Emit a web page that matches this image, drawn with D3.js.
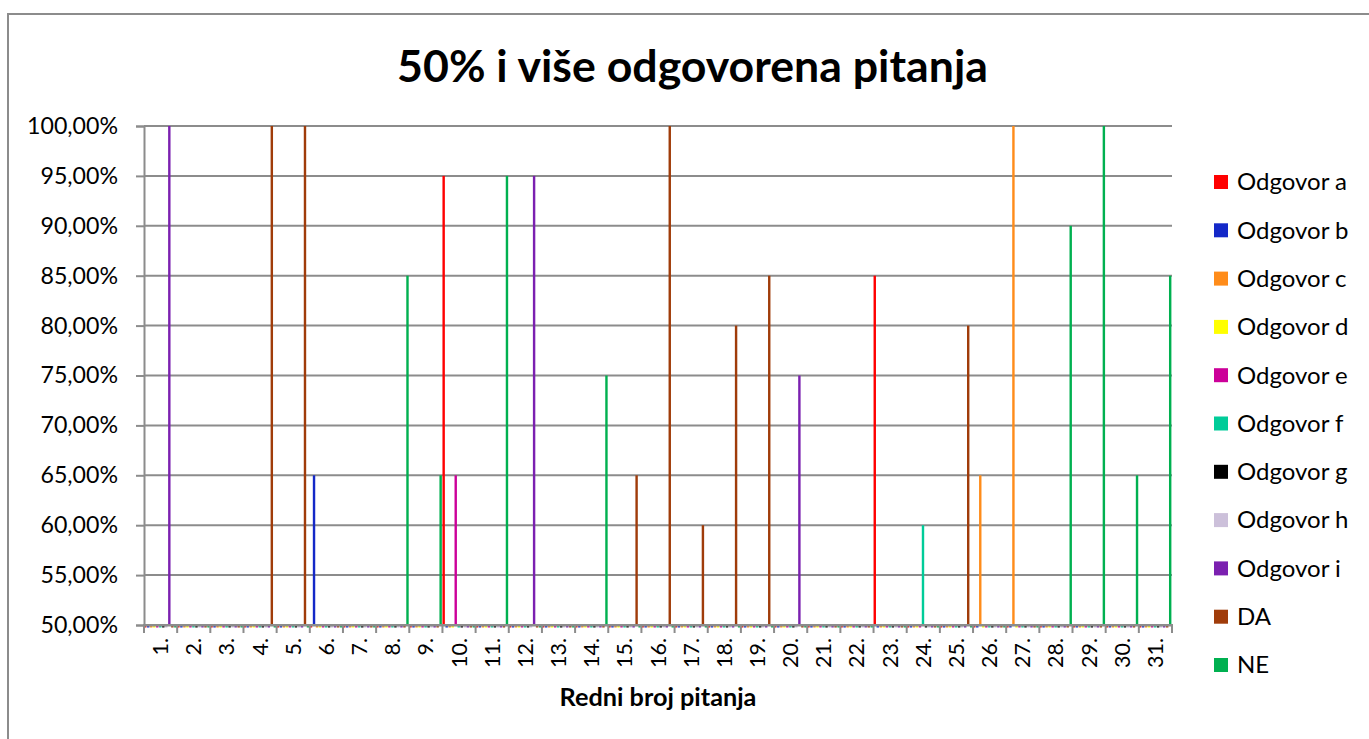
<!DOCTYPE html>
<html><head><meta charset="utf-8">
<script src="https://cdn.jsdelivr.net/npm/d3@7"></script>
<style>body{margin:0;background:#fff;} svg{display:block;}</style>
</head><body>
<svg id="c" width="1369" height="739"></svg>
<script>
// ---- data ----
const categories = ["1.","2.","3.","4.","5.","6.","7.","8.","9.","10.","11.","12.","13.","14.","15.","16.","17.","18.","19.","20.","21.","22.","23.","24.","25.","26.","27.","28.","29.","30.","31."];
const seriesNames = ["Odgovor a","Odgovor b","Odgovor c","Odgovor d","Odgovor e","Odgovor f","Odgovor g","Odgovor h","Odgovor i","DA","NE"];
const seriesColors = ["#ff0000","#1428c8","#ff8c1a","#ffff00","#cc0099","#00cc99","#000000","#ccc0da","#7b20b0","#a03c0a","#00b050"];
// values in % (below 50% not readable -> shown at baseline only)
const odgA = [0,0,0,0,0,0,0,0,0,95,0,0,0,0,0,0,0,0,0,0,0,0,85,0,0,0,0,0,0,0,0];
const odgB = [0,0,0,0,0,65,0,0,0,0,0,0,0,0,0,0,0,0,0,0,0,0,0,0,0,0,0,0,0,0,0];
const odgC = [0,0,0,0,0,0,0,0,0,0,0,0,0,0,0,0,0,0,0,0,0,0,0,0,0,65,100,0,0,0,0];
const odgD = [0,0,0,0,0,0,0,0,0,0,0,0,0,0,0,0,0,0,0,0,0,0,0,0,0,0,0,0,0,0,0];
const odgE = [0,0,0,0,0,0,0,0,0,65,0,0,0,0,0,0,0,0,0,0,0,0,0,0,0,0,0,0,0,0,0];
const odgF = [0,0,0,0,0,0,0,0,0,0,0,0,0,0,0,0,0,0,0,0,0,0,0,60,0,0,0,0,0,0,0];
const odgG = [0,0,0,0,0,0,0,0,0,0,0,0,0,0,0,0,0,0,0,0,0,0,0,0,0,0,0,0,0,0,0];
const odgH = [0,0,0,0,0,0,0,0,0,0,0,0,0,0,0,0,0,0,0,0,0,0,0,0,0,0,0,0,0,0,0];
const odgI = [100,0,0,0,0,0,0,0,0,0,0,95,0,0,0,0,0,0,0,75,0,0,0,0,0,0,0,0,0,0,0];
const da   = [0,0,0,100,100,0,0,0,0,0,0,0,0,0,65,100,60,80,85,0,0,0,0,0,80,0,0,0,0,0,0];
const ne   = [0,0,0,0,0,0,0,85,65,0,95,0,0,75,0,0,0,0,0,0,0,0,0,0,0,0,0,90,100,65,85];
const seriesValues = [odgA,odgB,odgC,odgD,odgE,odgF,odgG,odgH,odgI,da,ne];
const yTicks = [50,55,60,65,70,75,80,85,90,95,100];
const title = "50% i više odgovorena pitanja";
const xTitle = "Redni broj pitanja";

// ---- layout ----
const svg = d3.select("#c");
const L = 144, R = 1172, T = 126, B = 625;
const grid = "#8c8c8c";
const font = "Lato, 'Open Sans', sans-serif";

// fit a text's font-size so that a sample string reaches a target width
function fitSize(sample, target, weight){
  const t = svg.append("text").attr("font-family",font).attr("font-weight",weight||"normal")
    .attr("font-size",100).text(sample);
  const w = t.node().getComputedTextLength();
  t.remove();
  return 100*target/w;
}
const fsTitle = fitSize(title, 591, "bold");
const fsXTitle = fitSize(xTitle, 197, "bold");
const fsY = fitSize("100,00%", 91);
const fsX = fitSize("10.", 30);
const fsLeg = fitSize("Odgovor a", 110);

svg.append("rect").attr("x",8).attr("y",14).attr("width",1380).attr("height",740)
  .attr("fill","#fff").attr("stroke","#8c8c8c").attr("stroke-width",2);

const x = d3.scaleBand().domain(categories).range([L,R]).paddingInner(0).paddingOuter(0);
const xs = d3.scaleBand().domain(d3.range(seriesNames.length)).range([0,x.bandwidth()]).padding(0);
const y = d3.scaleLinear().domain([50,100]).range([B,T]);

// gridlines
svg.append("g").selectAll("line").data(yTicks.slice(1)).join("line")
  .attr("x1",L).attr("x2",R).attr("y1",d=>y(d)).attr("y2",d=>y(d))
  .attr("stroke",grid).attr("stroke-width",2);

// bars
const fmt = v => v.toFixed(2).replace(".",",") + "%";
seriesValues.forEach((vals,si)=>{
  const g = svg.append("g");
  g.selectAll("rect").data(vals).join("rect")
    .attr("x",(d,i)=>x(categories[i]) + xs(si))
    .attr("width",xs.bandwidth()-0.6)
    .attr("y",d=> d>50 ? y(d) : B+0.5)
    .attr("height",d=> d>50 ? B-y(d) : 2)
    .attr("fill",seriesColors[si]);
});

// y axis
const yAxis = d3.axisLeft(y).tickValues(yTicks).tickSize(8).tickPadding(18).tickFormat(fmt);
const ya = svg.append("g").attr("transform",`translate(${L},0)`).call(yAxis);
ya.select(".domain").attr("stroke",grid).attr("stroke-width",2);
ya.selectAll(".tick line").attr("stroke",grid).attr("stroke-width",2);
ya.selectAll(".tick text").attr("font-family",font).attr("font-size",fsY).attr("fill","#000");

// x axis
const xa = svg.append("g").attr("transform",`translate(0,${B})`)
  .call(d3.axisBottom(x).tickSize(0).tickFormat(d=>d));
xa.select(".domain").attr("stroke",grid).attr("stroke-width",2);
xa.selectAll(".tick text").attr("font-family",font).attr("font-size",fsX).attr("fill","#000")
  .attr("transform","rotate(-90)").attr("text-anchor","end").attr("dy","0.35em").attr("x",-13).attr("y",0);
// boundary tick marks
svg.append("g").selectAll("line").data(d3.range(categories.length+1)).join("line")
  .attr("x1",i=>L + i*x.bandwidth()).attr("x2",i=>L + i*x.bandwidth())
  .attr("y1",B).attr("y2",B+8).attr("stroke",grid).attr("stroke-width",2);
svg.append("line").attr("x1",L-1).attr("x2",R+1).attr("y1",B).attr("y2",B).attr("stroke",grid).attr("stroke-width",2);

// titles
svg.append("text").attr("x",692.5).attr("y",82).attr("text-anchor","middle")
  .attr("font-family",font).attr("font-weight","bold").attr("font-size",fsTitle).text(title);
svg.append("text").attr("x",658).attr("y",706).attr("text-anchor","middle")
  .attr("font-family",font).attr("font-weight","bold").attr("font-size",fsXTitle).text(xTitle);

// legend
const lg = svg.append("g");
seriesNames.forEach((n,i)=>{
  const cy = 182 + i*48.3;
  lg.append("rect").attr("x",1214).attr("y",cy-7).attr("width",14).attr("height",14).attr("fill",seriesColors[i]);
  lg.append("text").attr("x",1237).attr("y",cy).attr("dy","0.35em")
    .attr("font-family",font).attr("font-size",fsLeg).text(n);
});
</script>
</body></html>
